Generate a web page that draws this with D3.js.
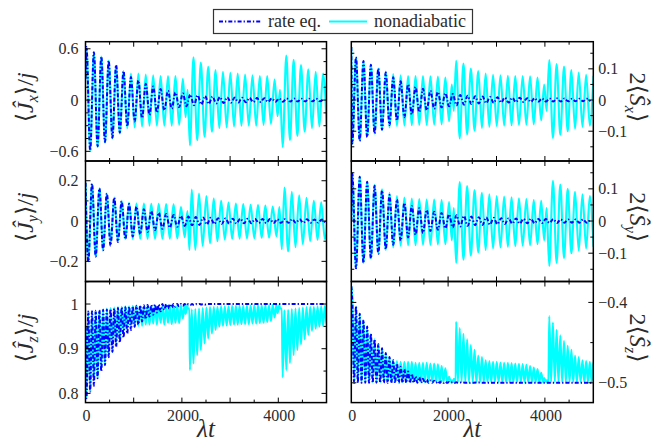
<!DOCTYPE html>
<html>
<head>
<meta charset="utf-8">
<script src="https://cdn.jsdelivr.net/npm/d3@7"></script>
<style>
  body { margin: 0; background: #fff; }
</style>
</head>
<body>
<svg id="chart" width="658" height="441" font-family="'Liberation Serif', 'Times New Roman', Tinos, 'DejaVu Serif', serif"></svg>
<script>
// ---- time grids (λt) ----
// turning points of the nonadiabatic oscillation (x-phase)
const tNon = [20,97,174,251,328,405,481,558,635,712,789,866,943,1020,1097,1174,1250,1327,1404,1481,1558,1635,1712,1789,1866,1943,2020,
  2077,2118,2166,
  2240,2317,2393,2470,2546,2623,2699,2776,2852,2929,3005,3082,3158,3235,3311,3388,3464,3541,3617,3694,3770,3847,3923,
  3985,4035,4090,
  4166,4242,4318,4395,4471,4547,4623,4699,4776,4852,4928,5004];
// turning points of the rate-equation oscillation
const tRate = d3.range(20, 4950, 76.9);
// lag of the y-phase turning points and of the z extrema
const quarter = 38;

// ---- values at t = 0 ----
const startJx = 0.25, startJy = 0.19, startJz = 0.95;
const startSx = 0.17, startSy = 0.0, startSz = -0.38;

// ---- nonadiabatic ----
const nonJx = [0.62,-0.59,0.55,-0.55,0.51,-0.50,0.46,-0.45,0.40,-0.39,0.34,-0.33,0.31,-0.32,0.31,-0.31,0.30,-0.30,0.29,-0.30,0.28,-0.30,0.28,-0.30,0.28,-0.29,0.25,
  -0.20,0.12,-0.53,
  0.50,-0.47,0.44,-0.43,0.39,-0.37,0.35,-0.33,0.33,-0.32,0.32,-0.31,0.31,-0.30,0.30,-0.30,0.29,-0.30,0.28,-0.29,0.28,-0.28,0.24,
  -0.19,0.12,-0.55,
  0.52,-0.47,0.47,-0.42,0.41,-0.37,0.36,-0.33,0.33,-0.31,0.31,-0.30];
const nonJy = [-0.20,0.183,-0.176,0.161,-0.143,0.137,-0.119,0.117,-0.10,0.10,-0.089,0.09,-0.089,0.087,-0.088,0.087,-0.088,0.086,-0.088,0.085,-0.088,0.084,-0.087,0.083,-0.086,0.07,-0.08,
  0.05,-0.143,0.156,
  -0.143,0.137,-0.124,0.124,-0.11,0.112,-0.10,0.10,-0.092,0.092,-0.088,0.087,-0.087,0.084,-0.086,0.081,-0.085,0.08,-0.083,0.077,-0.082,0.072,-0.075,
  0.07,-0.14,0.166,
  -0.15,0.145,-0.13,0.128,-0.115,0.115,-0.10,0.10,-0.093,0.093,-0.09,0.09];
const nonJzMin = [0.79,0.806,0.83,0.835,0.858,0.866,0.886,0.893,0.914,0.921,0.94,0.944,0.951,0.948,0.951,0.951,0.954,0.954,0.956,0.954,0.958,0.954,0.958,0.955,0.958,0.957,0.968,
  0.978,0.99,0.852,
  0.867,0.886,0.897,0.912,0.923,0.934,0.942,0.949,0.951,0.952,0.953,0.954,0.954,0.955,0.955,0.955,0.956,0.956,0.957,0.958,0.96,0.962,0.97,
  0.98,0.99,0.836,
  0.852,0.868,0.886,0.897,0.91,0.921,0.931,0.94,0.945,0.949,0.951,0.953];
const nonJzMax = [0.98,0.982,0.984,0.986,0.988,0.99,0.991,0.992,0.993,0.994,0.995,0.995,0.996,0.996,0.996,0.996,0.996,0.996,0.996,0.996,0.997,0.997,0.997,0.997,0.997,0.997,0.998,
  0.998,0.99,0.988,
  0.989,0.99,0.991,0.992,0.993,0.994,0.994,0.995,0.995,0.995,0.996,0.996,0.996,0.996,0.996,0.997,0.997,0.997,0.997,0.997,0.997,0.998,0.998,
  0.998,0.99,0.986,
  0.987,0.989,0.99,0.991,0.992,0.993,0.994,0.994,0.995,0.995,0.996,0.996];
const nonSx = [-0.139,0.137,-0.131,0.123,-0.117,0.114,-0.107,0.101,-0.096,0.091,-0.088,0.083,-0.083,0.079,-0.082,0.077,-0.081,0.077,-0.08,0.077,-0.08,0.076,-0.079,0.075,-0.078,0.072,-0.068,
  0.05,-0.035,0.126,
  -0.123,0.117,-0.11,0.101,-0.098,0.093,-0.09,0.085,-0.086,0.081,-0.083,0.079,-0.082,0.078,-0.081,0.077,-0.08,0.077,-0.079,0.076,-0.078,0.072,-0.065,
  0.05,-0.035,0.128,
  -0.122,0.115,-0.112,0.107,-0.1,0.096,-0.092,0.088,-0.086,0.081,-0.082,0.078];
const nonSy = [0.148,-0.147,0.138,-0.13,0.122,-0.116,0.112,-0.10,0.099,-0.09,0.088,-0.082,0.078,-0.077,0.073,-0.075,0.07,-0.075,0.068,-0.074,0.067,-0.074,0.067,-0.073,0.065,-0.072,0.059,
  -0.06,0.04,-0.13,
  0.121,-0.12,0.109,-0.108,0.096,-0.097,0.088,-0.09,0.083,-0.085,0.078,-0.082,0.076,-0.08,0.074,-0.078,0.071,-0.077,0.068,-0.075,0.065,-0.072,0.063,
  -0.06,0.04,-0.14,
  0.125,-0.13,0.113,-0.115,0.10,-0.10,0.091,-0.092,0.083,-0.085,0.078,-0.08];
const nonSzMax = [-0.396,-0.405,-0.414,-0.422,-0.430,-0.439,-0.446,-0.452,-0.457,-0.463,-0.468,-0.472,-0.473,-0.474,-0.474,-0.474,-0.474,-0.475,-0.475,-0.475,-0.475,-0.476,-0.476,-0.477,-0.479,-0.482,-0.4925,
  -0.497,-0.495,-0.424,
  -0.432,-0.439,-0.446,-0.453,-0.459,-0.466,-0.468,-0.472,-0.473,-0.474,-0.474,-0.4747,-0.475,-0.475,-0.4755,-0.476,-0.4765,-0.4768,-0.4776,-0.479,-0.481,-0.483,-0.4875,
  -0.494,-0.497,-0.417,
  -0.425,-0.434,-0.441,-0.448,-0.454,-0.459,-0.466,-0.468,-0.472,-0.473,-0.474,-0.474];
const nonSzFloor = -0.499;

// ---- rate equations ----
const rateJx = [0.62,-0.59,0.56,-0.54,0.51,-0.49,0.46,-0.44,0.41,-0.38,
  0.34,-0.31,0.27,-0.25,0.23,-0.21,0.19,-0.175,0.16,-0.145,
  0.13,-0.12,0.11,-0.10,0.09,-0.085,0.078,-0.072,0.066,-0.06,
  0.056,-0.052,0.048,-0.045,0.042,-0.039,0.036,-0.034,0.032,-0.030,
  0.029,-0.028,0.027,-0.026,0.025,-0.024,0.023,-0.022,0.022,-0.021,
  0.020,-0.020,0.019,-0.019,0.018,-0.018,0.017,-0.017,0.016,-0.016,
  0.016,-0.015,0.015,-0.015,0.015];
const rateJy = [-0.20,0.185,-0.176,0.162,-0.145,0.137,-0.122,0.116,-0.104,0.098,
  -0.09,0.084,-0.077,0.071,-0.065,0.059,-0.054,0.049,-0.045,0.041,
  -0.038,0.035,-0.033,0.03,-0.028,0.026,-0.024,0.022,-0.021,0.02,
  -0.019,0.018,-0.017,0.016,-0.015,0.014,-0.014,0.013,-0.013,0.012,
  -0.012,0.012,-0.011,0.011,-0.011,0.01,-0.01,0.01,-0.01,0.01,
  -0.01,0.009,-0.009,0.009,-0.009,0.009,-0.009,0.009,-0.009,0.009,
  -0.008,0.008,-0.008,0.008,-0.008];
const rateJzMin = [0.789,0.804,0.817,0.834,0.849,0.863,0.881,0.893,0.904,0.914,
  0.925,0.934,0.942,0.949,0.954,0.961,0.966,0.972,0.976,0.981,
  0.984,0.987,0.99,0.992,0.994,0.995,0.996,0.997,0.998,0.998,
  0.999,0.999,0.999,1,1,1,1,1,1,1,
  1,1,1,1,1,1,1,1,1,1,
  1,1,1,1,1,1,1,1,1,1,
  1,1,1,1,1];
const rateJzMax = [0.983,0.984,0.985,0.986,0.987,0.988,0.989,0.99,0.991,0.992,
  0.993,0.994,0.995,0.996,0.997,0.997,0.998,0.998,0.999,0.999,
  1,1,1,1,1,1,1,1,1,1,
  1,1,1,1,1,1,1,1,1,1,
  1,1,1,1,1,1,1,1,1,1,
  1,1,1,1,1,1,1,1,1,1,
  1,1,1,1,1];
const rateSx = [-0.139,0.137,-0.131,0.125,-0.119,0.113,-0.107,0.101,-0.095,0.088,
  -0.08,0.073,-0.066,0.06,-0.055,0.05,-0.046,0.042,-0.039,0.036,
  -0.033,0.03,-0.028,0.026,-0.024,0.022,-0.02,0.019,-0.017,0.016,
  -0.015,0.014,-0.013,0.012,-0.011,0.011,-0.01,0.01,-0.009,0.009,
  -0.008,0.008,-0.008,0.007,-0.007,0.007,-0.006,0.006,-0.006,0.006,
  -0.005,0.005,-0.005,0.005,-0.005,0.005,-0.005,0.005,-0.004,0.004,
  -0.004,0.004,-0.004,0.004,-0.004];
const rateSy = [0.148,-0.147,0.138,-0.13,0.122,-0.116,0.11,-0.102,0.095,-0.088,
  0.081,-0.074,0.067,-0.061,0.056,-0.051,0.047,-0.043,0.04,-0.037,
  0.034,-0.031,0.029,-0.027,0.025,-0.023,0.021,-0.02,0.018,-0.017,
  0.016,-0.015,0.014,-0.013,0.012,-0.012,0.011,-0.011,0.01,-0.01,
  0.009,-0.009,0.009,-0.008,0.008,-0.008,0.007,-0.007,0.007,-0.007,
  0.006,-0.006,0.006,-0.006,0.006,-0.006,0.005,-0.005,0.005,-0.005,
  0.005,-0.005,0.005,-0.005,0.005];
const rateSzMax = [-0.397,-0.405,-0.414,-0.422,-0.430,-0.439,-0.446,-0.452,-0.457,-0.463,
  -0.468,-0.472,-0.476,-0.480,-0.483,-0.486,-0.489,-0.492,-0.493,-0.495,
  -0.496,-0.497,-0.4975,-0.498,-0.498,-0.4985,-0.499,-0.499,-0.4993,-0.4995,
  -0.4997,-0.4997,-0.4997,-0.4997,-0.4997,-0.5,-0.5,-0.5,-0.5,-0.5,
  -0.5,-0.5,-0.5,-0.5,-0.5,-0.5,-0.5,-0.5,-0.5,-0.5,
  -0.5,-0.5,-0.5,-0.5,-0.5,-0.5,-0.5,-0.5,-0.5,-0.5,
  -0.5,-0.5,-0.5,-0.5,-0.5];
const rateSzFloor = -0.5;

// ---- axis ticks ----
const timeTicks = [0, 2000, 4000];
const jxTicks = [-0.6, 0, 0.6];
const jyTicks = [-0.2, 0, 0.2];
const jzTicks = [0.8, 0.9, 1];
const sxTicks = [-0.1, 0, 0.1];
const syTicks = [-0.1, 0, 0.1];
const szTicks = [-0.5, -0.4];

const legendLabels = ["rate eq.", "nonadiabatic"];

// ---- series builders ----
function oscillation(v0, times, vals, shift) {
  return [[0, v0]].concat(times.map((t, i) => [t + shift, vals[i]]));
}
function twoLevel(v0, times, first, second, shift) {
  const pts = [[0, v0]];
  times.forEach((t, i) => {
    pts.push([t, first[i]]);
    pts.push([t + shift, Array.isArray(second) ? second[i] : second]);
  });
  return pts;
}

// ---- layout ----
const colX = [[85.5, 326.5], [351.3, 593.3]];
const rowY = [[41.7, 161], [161, 281.5], [281.5, 402.6]];
const NON = "#00ffff", RATE = "#0000ff";
const DASH = "4,2,1.3,2";
const INK = "#2b2b2b";

const panels = [
  { col: 0, row: 0, dom: [-0.713, 0.683], step: 0.15, ticks: jxTicks, comp: "x",
    non: oscillation(startJx, tNon, nonJx, 0), rate: oscillation(startJx, tRate, rateJx, 0) },
  { col: 0, row: 1, dom: [-0.3, 0.298], step: 0.1, ticks: jyTicks, comp: "y",
    non: oscillation(startJy, tNon, nonJy, quarter), rate: oscillation(startJy, tRate, rateJy, quarter) },
  { col: 0, row: 2, dom: [0.7794, 1.0504], step: 0.05, ticks: jzTicks, comp: "z",
    non: twoLevel(startJz, tNon, nonJzMin, nonJzMax, quarter), rate: twoLevel(startJz, tRate, rateJzMin, rateJzMax, quarter) },
  { col: 1, row: 0, dom: [-0.1955, 0.187], step: 0.05, ticks: sxTicks, comp: "x",
    non: oscillation(startSx, tNon, nonSx, 0), rate: oscillation(startSx, tRate, rateSx, 0) },
  { col: 1, row: 1, dom: [-0.188, 0.1866], step: 0.05, ticks: syTicks, comp: "y",
    non: oscillation(startSy, tNon, nonSy, 0), rate: oscillation(startSy, tRate, rateSy, 0) },
  { col: 1, row: 2, dom: [-0.5246, -0.374], step: 0.05, ticks: szTicks, comp: "z",
    non: twoLevel(startSz, tNon, nonSzMax, nonSzFloor, quarter), rate: twoLevel(startSz, tRate, rateSzMax, rateSzFloor, quarter) }
];

const svg = d3.select("#chart");
const defs = svg.append("defs");
const fmt = v => String(+v.toFixed(3)).replace("-", "\u2212");

panels.forEach((p, k) => {
  const [x0, x1] = colX[p.col];
  const [y0, y1] = rowY[p.row];
  const x = d3.scaleLinear().domain([0, 5000]).range([x0, x1]);
  const y = d3.scaleLinear().domain(p.dom).range([y1, y0]);

  defs.append("clipPath").attr("id", "clip" + k)
    .append("rect").attr("x", x0).attr("y", y0).attr("width", x1 - x0).attr("height", y1 - y0);

  const line = d3.line().x(d => x(d[0])).y(d => y(d[1])).curve(d3.curveMonotoneX);
  const g = svg.append("g").attr("clip-path", `url(#clip${k})`);
  g.append("path").attr("d", line(p.non)).attr("fill", "none")
    .attr("stroke", NON).attr("stroke-width", 2.1).attr("stroke-linejoin", "round");
  g.append("path").attr("d", line(p.rate)).attr("fill", "none")
    .attr("stroke", RATE).attr("stroke-width", 2).attr("stroke-dasharray", DASH);

  // frame
  svg.append("rect").attr("x", x0).attr("y", y0).attr("width", x1 - x0).attr("height", y1 - y0)
    .attr("fill", "none").attr("stroke", "#000").attr("stroke-width", 1.5);

  // inward ticks on all sides
  const tg = svg.append("g").attr("stroke", "#000").attr("stroke-width", 1);
  d3.range(500, 5000, 500).forEach(t => {
    const len = t % 1000 === 0 ? 5 : 3;
    const xx = x(t);
    tg.append("line").attr("x1", xx).attr("x2", xx).attr("y1", y1).attr("y2", y1 - len);
    tg.append("line").attr("x1", xx).attr("x2", xx).attr("y1", y0).attr("y2", y0 + len);
  });
  const lo = Math.ceil(p.dom[0] / p.step - 1e-6), hi = Math.floor(p.dom[1] / p.step + 1e-6);
  d3.range(lo, hi + 1).forEach(n => {
    const v = n * p.step;
    const major = p.ticks.some(tv => Math.abs(tv - v) < 1e-6);
    const len = major ? 5 : 3;
    const yy = y(v);
    tg.append("line").attr("x1", x0).attr("x2", x0 + len).attr("y1", yy).attr("y2", yy);
    tg.append("line").attr("x1", x1).attr("x2", x1 - len).attr("y1", yy).attr("y2", yy);
  });

  // tick labels
  p.ticks.forEach(v => {
    const t = svg.append("text").attr("y", y(v)).attr("dy", "0.35em")
      .attr("font-size", 16).attr("fill", INK).text(fmt(v));
    if (p.col === 0) t.attr("x", x0 - 7).attr("text-anchor", "end");
    else t.attr("x", x1 + 5).attr("text-anchor", "start");
  });
  if (p.row === 2) {
    timeTicks.forEach(v => {
      svg.append("text").attr("x", x(v) + 1).attr("y", y1 + 18).attr("text-anchor", "middle")
        .attr("font-size", 16).attr("fill", INK).text(fmt(v));
    });
    const xl = svg.append("text").attr("x", (x0 + x1) / 2).attr("y", 437)
      .attr("text-anchor", "middle").attr("font-size", 25).attr("fill", INK);
    xl.append("tspan").attr("font-style", "italic").text("\u03bb");
    xl.append("tspan").attr("font-style", "italic").text("t");
  }

  // axis title
  const cy = (y0 + y1) / 2 - 4;
  if (p.col === 0) {
    const t = svg.append("text").attr("transform", `translate(33,${cy}) rotate(-90)`)
      .attr("text-anchor", "middle").attr("font-size", 24).attr("fill", INK);
    t.append("tspan").text("\u27e8");
    t.append("tspan").attr("font-style", "italic").text("\u0134");
    t.append("tspan").attr("font-style", "italic").attr("font-size", 16).attr("dy", 5).text(p.comp);
    t.append("tspan").attr("dy", -5).text("\u27e9/");
    t.append("tspan").attr("font-style", "italic").text("j");
  } else {
    const t = svg.append("text").attr("transform", `translate(630,${cy}) rotate(90)`)
      .attr("text-anchor", "middle").attr("font-size", 24).attr("fill", INK);
    t.append("tspan").text("2\u27e8");
    t.append("tspan").attr("font-style", "italic").text("\u015c");
    t.append("tspan").attr("font-style", "italic").attr("font-size", 16).attr("dy", 5).text(p.comp);
    t.append("tspan").attr("dy", -5).text("\u27e9");
  }
});

// legend
const lg = svg.append("g");
lg.append("rect").attr("x", 213.5).attr("y", 9.5).attr("width", 259).attr("height", 24)
  .attr("fill", "#fff").attr("stroke", "#333").attr("stroke-width", 1.2);
lg.append("line").attr("x1", 219).attr("x2", 262).attr("y1", 21.5).attr("y2", 21.5)
  .attr("stroke", RATE).attr("stroke-width", 2).attr("stroke-dasharray", DASH);
lg.append("text").attr("x", 268).attr("y", 26.5).attr("font-size", 18).attr("fill", INK).text(legendLabels[0]);
lg.append("line").attr("x1", 329).attr("x2", 367).attr("y1", 21.5).attr("y2", 21.5)
  .attr("stroke", NON).attr("stroke-width", 2.1);
lg.append("text").attr("x", 374).attr("y", 26.5).attr("font-size", 18).attr("fill", INK).text(legendLabels[1]);
</script>
</body>
</html>
